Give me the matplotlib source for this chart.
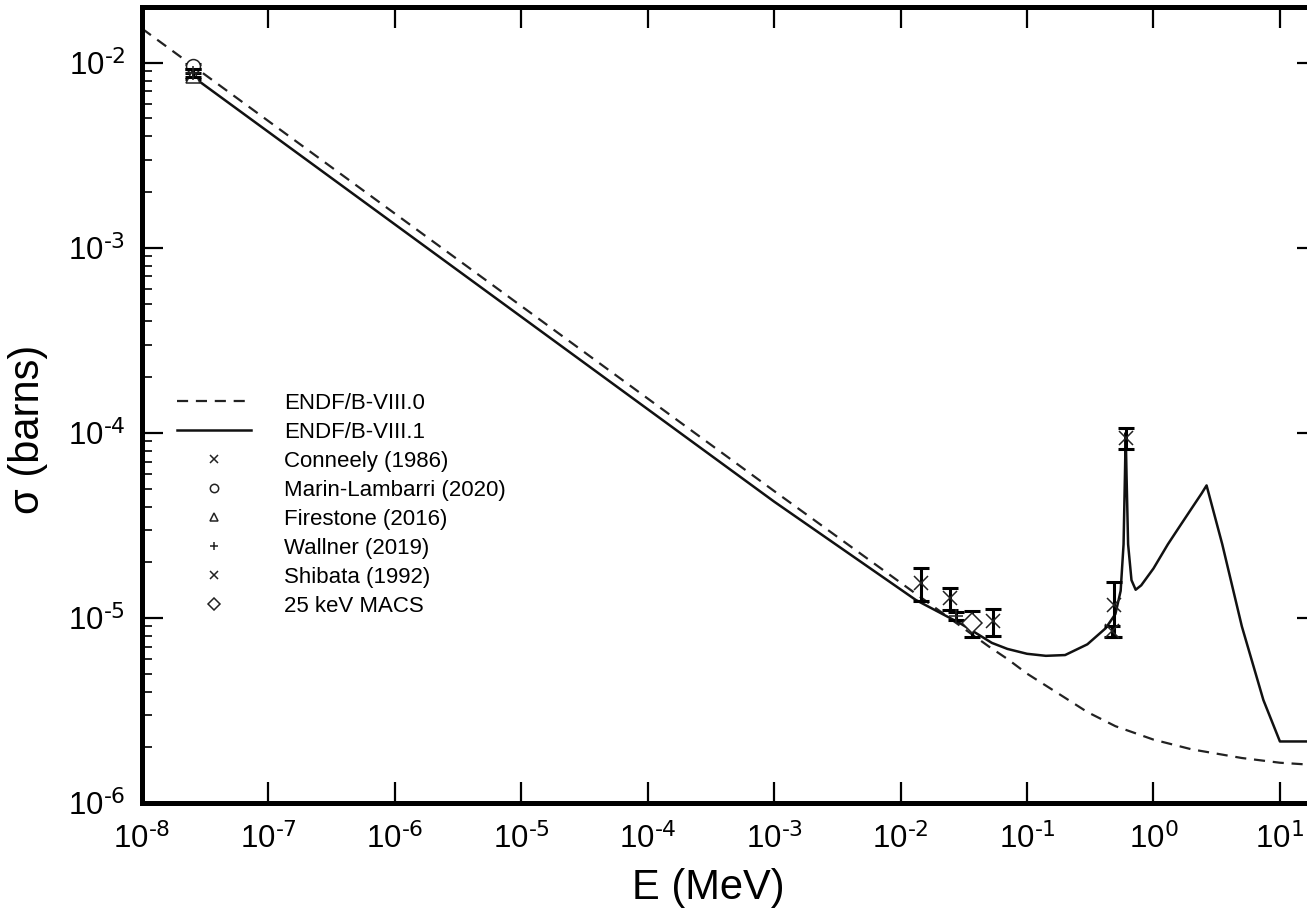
import numpy as np
import matplotlib
matplotlib.use("Agg")
import matplotlib.pyplot as plt
from matplotlib.ticker import LogLocator, FixedLocator, NullLocator

plt.rcParams['font.family'] = ['Liberation Sans', 'DejaVu Sans']
plt.rcParams['mathtext.default'] = 'regular'
plt.rcParams['axes.unicode_minus'] = False

# ENDF/B-VIII.0 (dashed)
e_b80 = [1e-8, 1e-3, 1e-2, 3e-2, 5e-2, 7e-2, 0.1, 0.2, 0.3, 0.5, 1.0, 2.0, 5.0, 10.0, 20.0]
s_b80 = [1.53e-2, 4.85e-5, 1.55e-5, 9.0e-6, 7.0e-6, 6.0e-6, 5.0e-6, 3.7e-6, 3.1e-6, 2.6e-6,
         2.2e-6, 1.95e-6, 1.75e-6, 1.65e-6, 1.6e-6]

# ENDF/B-VIII.1 (solid)
e_b81 = [2.53e-8, 1e-3, 1.32e-2, 3e-2, 5.27e-2, 7e-2, 0.1, 0.141, 0.2, 0.3, 0.419, 0.5, 0.55,
         0.58, 0.595, 0.603, 0.612, 0.63, 0.67, 0.723, 0.8, 1.0, 1.3, 1.6, 2.0, 2.4, 2.63,
         3.5, 5.0, 7.4, 10.0, 20.0]
s_b81 = [8.4e-3, 4.25e-5, 1.25e-5, 9.3e-6, 7.33e-6, 6.8e-6, 6.4e-6, 6.24e-6, 6.3e-6, 7.2e-6,
         8.8e-6, 1.05e-5, 1.4e-5, 2.5e-5, 6.0e-5, 1.0e-4, 6.0e-5, 2.5e-5, 1.6e-5, 1.42e-5,
         1.5e-5, 1.85e-5, 2.5e-5, 3.1e-5, 3.9e-5, 4.7e-5, 5.2e-5, 2.5e-5, 9.0e-6, 3.6e-6,
         2.15e-6, 2.15e-6]

# experimental points: energy, cross section, error
conneely_e = [0.0145, 0.0245, 0.054]
conneely_s = [1.55e-5, 1.28e-5, 9.6e-6]
conneely_err = [3.2e-6, 1.8e-6, 1.6e-6]

marin_e = [2.53e-8]
marin_s = [9.6e-3]
marin_err = [3e-4]

firestone_e = [2.53e-8]
firestone_s = [8.45e-3]
firestone_err = [3e-4]

wallner_e = [2.53e-8, 0.0274]
wallner_s = [8.8e-3, 1.03e-5]
wallner_err = [4e-4, 5e-7]

shibata_e = [0.47, 0.485, 0.603]
shibata_s = [8.5e-6, 1.18e-5, 9.4e-5]
shibata_err = [6e-7, 3.9e-6, 1.2e-5]

macs_e = [0.0367]
macs_s = [9.4e-6]
macs_err = [1.5e-6]

xdec = list(range(-8, 2))
ydec = list(range(-6, -1))

fig = plt.figure(figsize=(13.07, 9.13), dpi=100)
ax = fig.add_axes([0.1086, 0.1205, 0.8998, 0.8718])

ax.plot(e_b80, s_b80, color='#222222', ls=(0, (5, 3.5)), lw=1.6, label='ENDF/B-VIII.0')
ax.plot(e_b81, s_b81, color='#111111', ls='-', lw=1.8, label='ENDF/B-VIII.1')

sets = [
    (conneely_e, conneely_s, conneely_err, 'x', 'Conneely (1986)'),
    (marin_e, marin_s, marin_err, 'o', 'Marin-Lambarri (2020)'),
    (firestone_e, firestone_s, firestone_err, '^', 'Firestone (2016)'),
    (wallner_e, wallner_s, wallner_err, '+', 'Wallner (2019)'),
    (shibata_e, shibata_s, shibata_err, 'x', 'Shibata (1992)'),
    (macs_e, macs_s, macs_err, 'D', '25 keV MACS'),
]
for e, s, err, m, lab in sets:
    ax.errorbar(e, s, yerr=err, fmt='none', ecolor='black', elinewidth=2.2, capsize=6, capthick=2.2)
    ax.plot(e, s, ls='none', marker=m, ms=10, mfc='white', mec='#222222', mew=1.1, label=lab)

ax.set_xscale('log')
ax.set_yscale('log')
ax.set_xlim(1e-8, 20)
ax.set_ylim(1e-6, 2e-2)

ax.xaxis.set_major_locator(FixedLocator([10.0**k for k in xdec]))
ax.xaxis.set_minor_locator(NullLocator())
ax.yaxis.set_major_locator(FixedLocator([10.0**k for k in ydec]))
ax.yaxis.set_minor_locator(LogLocator(base=10, subs=np.arange(2, 10)))
ax.set_xticklabels(['$10^{\\text{%d}}$' % k for k in xdec])
ax.set_yticklabels(['$10^{\\text{%d}}$' % k for k in ydec])

ax.tick_params(which='both', direction='in', top=True, right=True, labelsize=22.5)
ax.tick_params(which='major', length=15, width=1.6)
ax.tick_params(which='minor', length=7, width=1.2)
ax.tick_params(axis='x', pad=14)
ax.tick_params(axis='y', pad=12)
for sp in ax.spines.values():
    sp.set_linewidth(3.6)

ax.set_xlabel('E (MeV)', fontsize=30)
ax.set_ylabel('σ (barns)', fontsize=30)
ax.xaxis.set_label_coords(0.482, -0.082)
ax.yaxis.set_label_coords(-0.08, 0.47)

ax.legend(loc='upper left', bbox_to_anchor=(0.03, 0.515), frameon=False, fontsize=16,
          handlelength=3.3, handletextpad=1.5, labelspacing=0.36, markerscale=0.6,
          borderpad=0, borderaxespad=0)

fig.savefig('out.png', dpi=100)
